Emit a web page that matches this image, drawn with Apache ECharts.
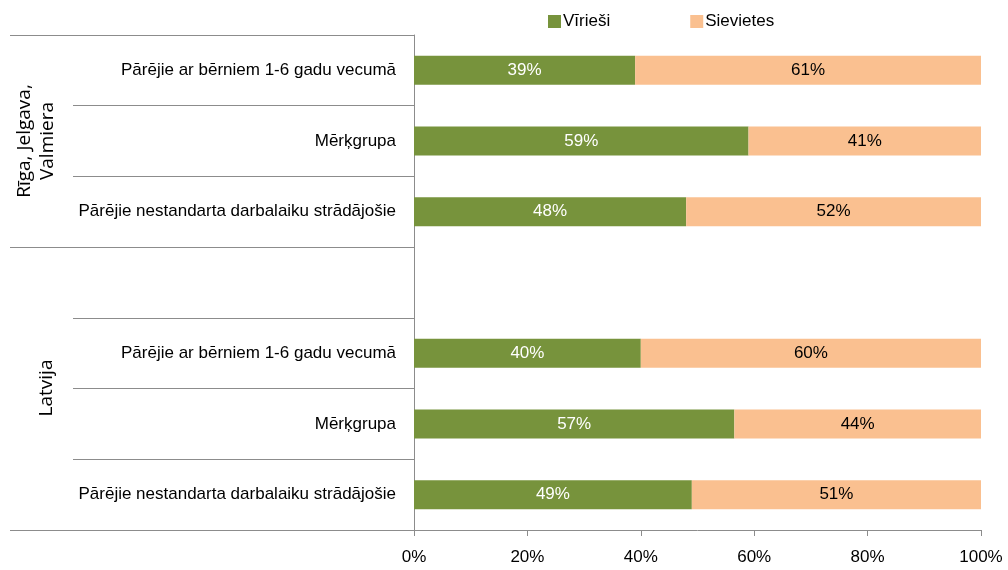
<!DOCTYPE html>
<html>
<head>
<meta charset="utf-8">
<script src="https://cdn.jsdelivr.net/npm/echarts@6/dist/echarts.min.js"></script>
<style>
  html, body { margin: 0; padding: 0; background: #fff; }
  #chart { width: 1008px; height: 570px; }
</style>
</head>
<body>
<div id="chart"></div>
<script>
// kategorijas (no augšas uz leju), tukšā rinda = atstarpe starp grupām
const categories = [
  'Pārējie ar bērniem 1-6 gadu vecumā',
  'Mērķgrupa',
  'Pārējie nestandarta darbalaiku strādājošie',
  '',
  'Pārējie ar bērniem 1-6 gadu vecumā',
  'Mērķgrupa',
  'Pārējie nestandarta darbalaiku strādājošie'
]
const men = [39, 59, 48, null, 40, 56.5, 49]
const women = [61, 41, 52, null, 60, 43.5, 51]
const groupNames = ['Rīga, Jelgava,\nValmiera', 'Latvija']
const groupStartIdx = [0, 3]
const seriesNames = ['Vīrieši', 'Sievietes']

const FONT = '"Liberation Sans", Arial, sans-serif'
const GROUP_FONT = '19px "Open Sans", "DejaVu Sans", sans-serif'
const GREEN = '#77933c'
const ORANGE = '#fac090'
const LINE = '#8c8c8c'

const chart = echarts.init(document.getElementById('chart'), null, { renderer: 'canvas' })

function pct(p) {
  return Math.round(p.value) + '%'
}

const option = {
  animation: false,
  textStyle: { fontFamily: FONT },
  legend: {
    data: seriesNames,
    left: 548, top: 13, padding: 0,
    itemWidth: 13, itemHeight: 13, itemGap: 80,
    icon: 'rect',
    textStyle: { fontSize: 17, color: '#000', fontFamily: FONT, padding: [0, 0, 0, -3] }
  },
  grid: { left: 414, right: 27, top: 35, bottom: 40, containLabel: false },
  xAxis: {
    type: 'value', min: 0, max: 100, interval: 20,
    axisLine: { show: true, lineStyle: { color: LINE } },
    axisTick: { show: true, length: 6, lineStyle: { color: LINE } },
    axisLabel: { formatter: '{value}%', fontSize: 17, color: '#000', margin: 19, fontFamily: FONT },
    splitLine: { show: false }
  },
  yAxis: [
    {
      type: 'category', data: categories, inverse: true,
      axisLine: { show: true, lineStyle: { color: LINE } },
      axisTick: { show: true, length: 341, interval: 0, lineStyle: { color: LINE } },
      axisLabel: { fontSize: 17, color: '#000', margin: 18, interval: 0, fontFamily: FONT }
    },
    {
      // garās līnijas grupu robežās
      type: 'category', data: categories, inverse: true, position: 'left',
      axisLine: { show: false },
      axisTick: {
        show: true, length: 404,
        interval: function (idx) { return groupStartIdx.indexOf(idx) >= 0 },
        lineStyle: { color: LINE }
      },
      axisLabel: { show: false }
    }
  ],
  series: [
    {
      name: seriesNames[0], type: 'bar', stack: 'total', data: men,
      barWidth: 29,
      itemStyle: { color: GREEN },
      label: { show: true, position: 'inside', color: '#fff', fontSize: 17, formatter: pct, fontFamily: FONT }
    },
    {
      name: seriesNames[1], type: 'bar', stack: 'total', data: women,
      barWidth: 29,
      itemStyle: { color: ORANGE },
      label: { show: true, position: 'inside', color: '#000', fontSize: 17, formatter: pct, fontFamily: FONT }
    }
  ],
  graphic: [
    {
      type: 'text', x: 36, y: 141, rotation: Math.PI / 2,
      style: {
        text: groupNames[0], fill: '#000', font: GROUP_FONT,
        align: 'center', verticalAlign: 'middle', lineHeight: 23
      }
    },
    {
      type: 'text', x: 47, y: 388, rotation: Math.PI / 2,
      style: {
        text: groupNames[1], fill: '#000', font: GROUP_FONT,
        align: 'center', verticalAlign: 'middle'
      }
    }
  ]
}

chart.setOption(option)
</script>
</body>
</html>
